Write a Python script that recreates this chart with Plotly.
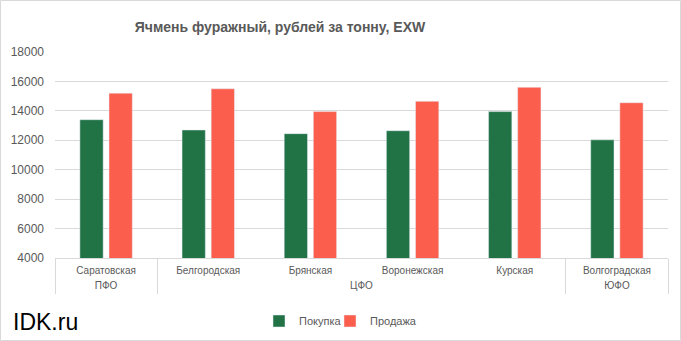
import plotly.graph_objects as go

districts = ["ПФО", "ЦФО", "ЦФО", "ЦФО", "ЦФО", "ЮФО"]
regions = ["Саратовская", "Белгородская", "Брянская", "Воронежская", "Курская", "Волгоградская"]
purchase = [13400, 12700, 12450, 12650, 13950, 12030]
sale = [15200, 15500, 13950, 14650, 15600, 14550]
y_ticks = [4000, 6000, 8000, 10000, 12000, 14000, 16000, 18000]

GREEN = "#217346"
RED = "#FC5E4D"
GRAY = "#595959"
LINE = "#D9D9D9"

W, H = 681, 341
L, R, T, B = 55, 13, 52, 83
pw, ph = W - L - R, H - T - B

def px_x(x):
    return (x - L) / pw

def px_y(y):
    return (H - B - y) / ph

# district groups -> label centres and boundaries (in category index units)
groups = []
for i, d in enumerate(districts):
    if groups and groups[-1][0] == d:
        groups[-1][2] = i
    else:
        groups.append([d, i, i])
group_centers = [(a + b) / 2 for _, a, b in groups]
group_names = [g[0] for g in groups]
bounds = [groups[0][1] - 0.5] + [b + 0.5 for _, a, b in groups]
xr = [-0.5, len(regions) - 0.5]

fig = go.Figure()
fig.add_trace(go.Bar(x=regions, y=purchase, name="Покупка", marker_color=GREEN, legend="legend"))
fig.add_trace(go.Bar(x=regions, y=sale, name="Продажа", marker_color=RED, legend="legend2"))
# empty helper traces so the district-label and divider axes get drawn
fig.add_trace(go.Scatter(x=[None], y=[None], xaxis="x2", yaxis="y", showlegend=False, hoverinfo="skip"))
fig.add_trace(go.Scatter(x=[None], y=[None], xaxis="x3", yaxis="y", showlegend=False, hoverinfo="skip"))

legend_common = dict(orientation="h", yref="container", y=1 - 321 / H, yanchor="middle",
                     xanchor="left", font=dict(size=11, color=GRAY), itemwidth=30,
                     bgcolor="rgba(0,0,0,0)", visible=True)

fig.update_layout(
    width=W, height=H, showlegend=True,
    margin=dict(l=L, r=R, t=T, b=B, autoexpand=False),
    paper_bgcolor="white", plot_bgcolor="white",
    barmode="group", bargap=0.43, bargroupgap=0.2,
    title=dict(text="<b>Ячмень фуражный, рублей за тонну, EXW</b>",
               font=dict(family="Liberation Sans Narrow, Arial Narrow, Liberation Sans", size=14, color=GRAY),
               x=280 / W, xanchor="center", y=1 - 27 / H, yanchor="middle", xref="container", yref="container"),
    font=dict(family="Liberation Sans, Arial", color=GRAY),
    legend=dict(legend_common, x=px_x(259)),
    legend2=dict(legend_common, x=px_x(330)),
    xaxis=dict(type="category", range=xr, showline=True, linecolor=LINE, linewidth=1,
               ticklabelstandoff=3, automargin=False,
               tickfont=dict(size=10, color=GRAY), ticks="", showgrid=False),
    xaxis2=dict(overlaying="x", side="bottom", anchor="y", type="linear", range=xr,
                tickvals=group_centers, ticktext=group_names, ticks="", showgrid=False,
                zeroline=False, showline=False, ticklabelstandoff=20, automargin=False,
                tickfont=dict(size=10, color=GRAY)),
    xaxis3=dict(overlaying="x", side="bottom", anchor="y", type="linear", range=xr,
                tickvals=bounds, showticklabels=False, ticks="outside", ticklen=35,
                tickcolor=LINE, tickwidth=1, showgrid=False, zeroline=False, showline=False,
                automargin=False),
    yaxis=dict(range=[4000, 18000], tickvals=y_ticks, tickformat="d", showgrid=True, gridcolor=LINE, gridwidth=1,
               zeroline=False, tickfont=dict(size=12, color=GRAY), ticklabelstandoff=10,
               showline=False, automargin=False),
)

fig.add_annotation(text="IDK.ru", xref="paper", yref="paper", x=px_x(11), y=px_y(322),
                   xanchor="left", yanchor="middle", showarrow=False,
                   font=dict(family="Liberation Sans, Arial", size=23, color="black"))

fig.add_shape(type="rect", xref="paper", yref="paper",
              x0=px_x(0.5), x1=px_x(680.5), y0=px_y(340.5), y1=px_y(0.5),
              line=dict(color=LINE, width=1), fillcolor="rgba(0,0,0,0)", layer="below")

fig.write_html("out.html")
